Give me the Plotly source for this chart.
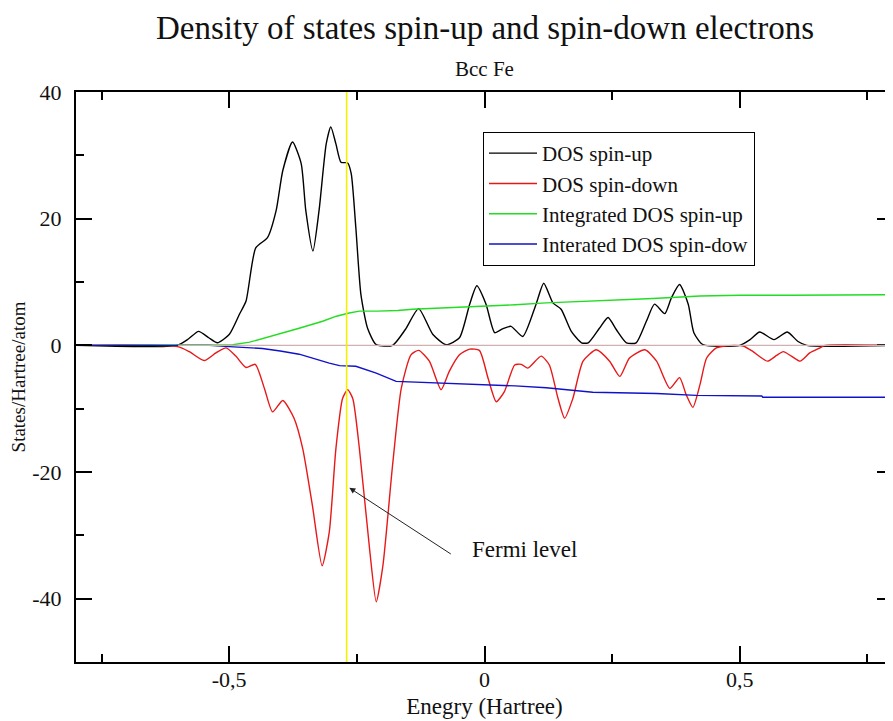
import plotly.graph_objects as go

# ---------------- data ----------------
FERMI_LEVEL = -0.27

up_x = [-0.80, -0.602, -0.58, -0.560, -0.540, -0.523, -0.50, -0.480, -0.467, -0.448, -0.425,
        -0.408, -0.395, -0.376, -0.359, -0.350, -0.336, -0.324, -0.310, -0.301, -0.291, -0.281,
        -0.268, -0.261, -0.252, -0.242, -0.229, -0.212, -0.18, -0.155, -0.129, -0.101, -0.075,
        -0.049, -0.029, -0.015, 0.003, 0.020, 0.035, 0.052, 0.075, 0.101, 0.116, 0.134, 0.150,
        0.170, 0.190, 0.203, 0.225, 0.242, 0.258, 0.278, 0.297, 0.317, 0.333, 0.353, 0.366,
        0.382, 0.399, 0.410, 0.428, 0.50, 0.520, 0.539, 0.567, 0.593, 0.614, 0.631, 0.80]
up_y = [0, 0, 1.0, 2.2, 1.2, 0.4, 1.7, 4.9, 7.0, 15.4, 17.0,
        21.3, 27.6, 32.1, 28.7, 21.3, 14.9, 21.3, 31.8, 34.5, 31.8, 28.9,
        28.8, 27.1, 18.6, 8.0, 2.7, 0.1, 0.0, 2.5, 5.8, 1.7, 0.1,
        1.2, 6.5, 9.4, 6.5, 2.0, 2.6, 3.0, 1.4, 6.5, 9.8, 6.7, 5.7,
        2.2, 0.4, 0.4, 2.7, 4.4, 2.5, 0.4, 0.4, 3.8, 6.5, 5.0, 7.5,
        9.6, 6.5, 2.0, 0.1, 0, 0.9, 2.1, 0.9, 2.1, 0.6, 0, 0]

dn_x = [-0.80, -0.601, -0.578, -0.549, -0.526, -0.506, -0.487, -0.467, -0.449, -0.431, -0.415,
        -0.395, -0.373, -0.356, -0.337, -0.318, -0.304, -0.291, -0.278, -0.268, -0.258, -0.245,
        -0.225, -0.212, -0.199, -0.180, -0.163, -0.144, -0.129, -0.108, -0.085, -0.069, -0.049,
        -0.029, -0.010, 0.007, 0.023, 0.039, 0.059, 0.072, 0.085, 0.111, 0.127, 0.144, 0.157,
        0.173, 0.193, 0.219, 0.245, 0.265, 0.284, 0.314, 0.337, 0.363, 0.382, 0.395, 0.408,
        0.422, 0.435, 0.454, 0.471, 0.49, 0.507, 0.526, 0.554, 0.572, 0.585, 0.601, 0.618,
        0.637, 0.657, 0.667, 0.80]
dn_y = [0, -0.2, -1.0, -2.4, -1.2, -0.4, -1.7, -3.5, -3.0, -6.8, -10.5,
        -8.7, -11.5, -16.3, -25.3, -34.8, -29.5, -16.3, -8.4, -7.0, -8.4, -16.3,
        -32.2, -40.5, -34.8, -18.9, -6.8, -1.5, -0.8, -2.5, -7.0, -4.1, -1.5,
        -0.6, -0.8, -5.2, -8.9, -7.3, -3.1, -3.0, -3.6, -1.7, -3.1, -8.4, -11.5,
        -8.4, -2.5, -0.7, -2.5, -4.9, -2.0, -0.7, -2.5, -6.8, -5.1, -7.8, -9.8,
        -6.2, -2.0, -0.4, -0.1, 0, -0.1, -1.0, -2.5, -1.6, -1.0, -1.7, -2.5,
        -1.2, -0.4, 0, 0]

int_up_x = [-0.80, -0.55, -0.493, -0.46, -0.428, -0.40, -0.363, -0.317, -0.29, -0.265, -0.245,
            -0.21, -0.17, -0.141, -0.08, -0.010, 0.06, 0.121, 0.19, 0.252, 0.33, 0.422,
            0.50, 0.60, 0.70, 0.80]
int_up_y = [0, 0, 0.1, 0.5, 1.2, 1.9, 2.7, 3.8, 4.6, 5.1, 5.4,
            5.4, 5.5, 5.7, 5.9, 6.2, 6.4, 6.7, 6.9, 7.1, 7.4, 7.8,
            7.9, 7.9, 8.0, 8.0]

int_dn_x = [-0.80, -0.60, -0.539, -0.50, -0.435, -0.40, -0.363, -0.304, -0.284, -0.252, -0.212,
            -0.173, -0.10, -0.010, 0.06, 0.121, 0.212, 0.337, 0.415, 0.543, 0.545, 0.80]
int_dn_y = [0, 0, 0, -0.2, -0.5, -0.9, -1.4, -2.8, -3.2, -3.3, -4.4,
            -5.7, -5.9, -6.1, -6.4, -6.7, -7.4, -7.6, -7.9, -8.0, -8.2, -8.2]

series_names = ["DOS spin-up", "DOS spin-down", "Integrated DOS spin-up", "Interated DOS spin-dow"]

x_tickvals = [-0.5, 0, 0.5]
x_ticktext = ["-0,5", "0", "0,5"]
y_tickvals = [-40, -20, 0, 20, 40]
y_ticktext = ["-40", "-20", "0", "20", "40"]

FONT = "Liberation Serif, Times New Roman, serif"
TXT = "#111111"

fig = go.Figure()
fig.add_trace(go.Scatter(x=up_x, y=up_y, mode="lines", name=series_names[0],
                         line=dict(color="#000000", width=1.4, shape="spline", smoothing=0.6)))
fig.add_trace(go.Scatter(x=dn_x, y=dn_y, mode="lines", name=series_names[1],
                         line=dict(color="#e81818", width=1.4, shape="spline", smoothing=0.6)))
fig.add_trace(go.Scatter(x=int_up_x, y=int_up_y, mode="lines", name=series_names[2],
                         line=dict(color="#22dd22", width=1.4)))
fig.add_trace(go.Scatter(x=int_dn_x, y=int_dn_y, mode="lines", name=series_names[3],
                         line=dict(color="#1111cc", width=1.4)))

# zero line and Fermi level
fig.add_shape(type="line", xref="x", yref="y", x0=-0.60, x1=0.80, y0=0, y1=0,
              line=dict(color="#d0b0b0", width=1.2), layer="above")
fig.add_shape(type="line", xref="x", yref="y", x0=FERMI_LEVEL, x1=FERMI_LEVEL, y0=-50, y1=40,
              line=dict(color="#f2f200", width=1.6), layer="above")

# arrow + text
fig.add_annotation(x=-0.2647, y=-22.5, ax=-0.063, ay=-33.1, xref="x", yref="y",
                   axref="x", ayref="y", text="", showarrow=True, arrowhead=2,
                   arrowsize=1.2, arrowwidth=1, arrowcolor="#222222", standoff=0)
fig.add_annotation(x=0.078, y=-32.3, xref="x", yref="y", text="Fermi level",
                   showarrow=False, font=dict(family=FONT, size=23, color=TXT))

# titles (plot area: 570 px tall, bottom at page y=662)
fig.add_annotation(x=0.5, y=(662 - 28) / 570, xref="paper", yref="paper", yanchor="middle",
                   text="Density of states spin-up and spin-down electrons",
                   showarrow=False, font=dict(family=FONT, size=33, color=TXT))
fig.add_annotation(x=0.5, y=(662 - 69) / 570, xref="paper", yref="paper", yanchor="middle",
                   text="Bcc Fe", showarrow=False, font=dict(family=FONT, size=21, color=TXT))

# page body adds ~8px offset; compensate so the plot area sits at x 76..893, y 92..662
fig.update_layout(
    width=885, height=713,
    margin=dict(l=68, r=0, t=84, b=59, autoexpand=False),
    paper_bgcolor="white", plot_bgcolor="white",
    font=dict(family=FONT, size=22, color=TXT),
    showlegend=True,
    legend=dict(x=(483 - 76) / 817, y=(662 - 132) / 570, xanchor="left", yanchor="top",
                bordercolor="#000000", borderwidth=1, bgcolor="white",
                font=dict(family=FONT, size=21, color=TXT),
                tracegroupgap=0, itemwidth=48),
)

fig.update_xaxes(range=[-0.8, 0.8], tickmode="array", tickvals=x_tickvals, ticktext=x_ticktext,
                 ticks="inside", ticklen=16, tickwidth=1.5,
                 tickcolor="#000", showline=True, linecolor="#000", linewidth=2, mirror="ticks",
                 showgrid=False, zeroline=False, automargin=False,
                 minor=dict(tickmode="linear", dtick=0.25, tick0=0, ticks="inside", ticklen=8,
                            tickwidth=1.5, tickcolor="#000"),
                 tickfont=dict(family=FONT, size=22, color=TXT), ticklabelstandoff=-3,
                 title=dict(text="Enegry (Hartree)", font=dict(family=FONT, size=23, color=TXT), standoff=6))
fig.update_yaxes(range=[-50, 40], tickmode="array", tickvals=y_tickvals, ticktext=y_ticktext,
                 ticks="inside", ticklen=16, tickwidth=1.5,
                 tickcolor="#000", showline=True, linecolor="#000", linewidth=2, mirror="ticks",
                 showgrid=False, zeroline=False, automargin=False,
                 minor=dict(tickmode="linear", dtick=10, tick0=0, ticks="inside", ticklen=8,
                            tickwidth=1.5, tickcolor="#000"),
                 tickfont=dict(family=FONT, size=22, color=TXT), ticklabelstandoff=8,
                 title=dict(text="States/Hartree/atom", font=dict(family=FONT, size=19, color=TXT), standoff=8))

fig.write_html("out.html")
